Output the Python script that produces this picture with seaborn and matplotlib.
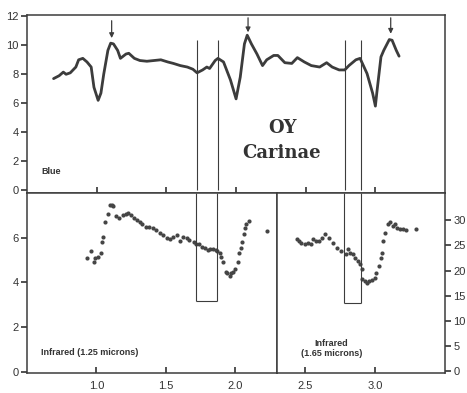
import numpy as np
import pandas as pd
import matplotlib
matplotlib.use("Agg")
import matplotlib.pyplot as plt
import seaborn as sns

sns.set_theme(style="ticks")
plt.rcParams['font.family'] = ['Liberation Sans', 'DejaVu Sans']

# Blue light curve (top panel)
blue_x = [0.69, 0.73, 0.76, 0.78, 0.81, 0.85, 0.87, 0.90, 0.93, 0.96, 0.98, 1.01, 1.03,
          1.05, 1.08, 1.10, 1.12, 1.15, 1.17, 1.21, 1.23, 1.27, 1.31, 1.36, 1.41,
          1.46, 1.51, 1.55, 1.60, 1.65, 1.69, 1.72, 1.76, 1.79, 1.81, 1.85, 1.87,
          1.91, 1.96, 2.00, 2.03, 2.06, 2.08, 2.11, 2.15, 2.19, 2.22, 2.27, 2.30,
          2.35, 2.40, 2.44, 2.49, 2.54, 2.60, 2.65, 2.69, 2.74, 2.78, 2.81, 2.86,
          2.89, 2.94, 2.98, 3.00, 3.01, 3.04, 3.06, 3.10, 3.12, 3.15, 3.17]
blue_y = [7.7, 7.9, 8.15, 8.0, 8.1, 8.5, 9.0, 9.1, 8.85, 8.5, 7.1, 6.2, 6.7,
          8.0, 9.65, 10.15, 10.1, 9.65, 9.1, 9.4, 9.45, 9.1, 8.95, 8.9, 8.95,
          9.0, 8.85, 8.75, 8.6, 8.5, 8.35, 8.1, 8.3, 8.5, 8.4, 8.95, 9.1,
          8.85, 7.6, 6.3, 7.8, 10.1, 10.7, 10.1, 9.4, 8.6, 9.0, 9.3, 9.3,
          8.8, 8.75, 9.15, 8.85, 8.6, 8.5, 8.8, 8.5, 8.3, 8.3, 8.6, 9.0,
          9.1, 8.05, 6.7, 5.8, 6.7, 9.2, 9.65, 10.4, 10.35, 9.65, 9.25]

# Infrared 1.25 microns (bottom left, left axis)
ir125_x = [0.93, 0.96, 0.98, 0.99, 1.01, 1.03, 1.04, 1.05, 1.06, 1.08, 1.10, 1.11,
           1.12, 1.14, 1.16, 1.19, 1.21, 1.23, 1.25, 1.27, 1.29, 1.31, 1.33, 1.36,
           1.38, 1.41, 1.43, 1.46, 1.48, 1.51, 1.53, 1.55, 1.58, 1.60, 1.62, 1.65,
           1.67, 1.70, 1.72, 1.74, 1.76, 1.78, 1.80, 1.82, 1.84, 1.86, 1.87, 1.89,
           1.90, 1.91, 1.93, 1.94, 1.96, 1.97, 1.98, 2.00, 2.02, 2.03, 2.04, 2.05,
           2.06, 2.07, 2.08, 2.10, 2.23]
ir125_y = [5.07, 5.4, 4.93, 5.1, 5.15, 5.3, 5.8, 6.05, 6.7, 7.05, 7.45, 7.45,
           7.4, 6.95, 6.9, 7.0, 7.05, 7.1, 7.0, 6.9, 6.8, 6.7, 6.6, 6.5,
           6.5, 6.45, 6.35, 6.2, 6.1, 6.0, 5.95, 6.05, 6.1, 5.85, 6.05, 6.0,
           5.9, 5.8, 5.7, 5.7, 5.6, 5.55, 5.45, 5.5, 5.5, 5.45, 5.4, 5.3,
           5.15, 4.9, 4.45, 4.4, 4.3, 4.4, 4.45, 4.6, 4.9, 5.3, 5.55, 5.8,
           6.15, 6.45, 6.6, 6.75, 6.3]

# Infrared 1.65 microns (bottom right, right axis)
ir165_x = [2.44, 2.46, 2.47, 2.50, 2.52, 2.54, 2.56, 2.58, 2.60, 2.62, 2.64, 2.67,
           2.70, 2.73, 2.76, 2.79, 2.81, 2.82, 2.84, 2.86, 2.88, 2.89, 2.91, 2.91,
           2.93, 2.94, 2.96, 2.98, 3.00, 3.01, 3.03, 3.04, 3.05, 3.06, 3.07, 3.09,
           3.11, 3.13, 3.14, 3.16, 3.18, 3.20, 3.22, 3.29]
ir165_y = [26.2, 25.8, 25.5, 25.3, 25.4, 25.2, 26.2, 25.9, 25.8, 26.5, 27.2, 26.4,
           25.4, 24.5, 23.9, 23.2, 24.2, 23.5, 23.2, 22.5, 22.0, 21.3, 20.3, 18.3,
           17.9, 17.5, 17.9, 18.2, 18.5, 19.5, 21.0, 22.5, 23.5, 25.8, 27.4, 29.2,
           29.6, 28.8, 29.2, 28.4, 28.2, 28.3, 28.0, 28.2]

# eclipse windows and peak markers
win_left = [1.72, 1.87]
win_right = [2.78, 2.90]
arrow_x = [1.107, 2.086, 3.11]
arrow_top = [11.7, 11.9, 11.9]
arrow_tip = [10.5, 10.9, 10.8]

ink = "#3c3c3c"
fig = plt.figure(figsize=(4.67, 3.93), dpi=100)
ax_top = fig.add_axes([0.058, 0.509, 0.895, 0.453])
ax_bl = fig.add_axes([0.058, 0.051, 0.535, 0.458])
ax_br = fig.add_axes([0.593, 0.051, 0.360, 0.458])

blue = pd.DataFrame({"phase": blue_x, "flux": blue_y})
sns.lineplot(data=blue, x="phase", y="flux", ax=ax_top, color=ink, lw=2.0, sort=False)

ir1 = pd.DataFrame({"phase": ir125_x, "flux": ir125_y})
sns.scatterplot(data=ir1, x="phase", y="flux", ax=ax_bl, color="#454545", s=9, linewidth=0)
ir2 = pd.DataFrame({"phase": ir165_x, "flux": ir165_y})
sns.scatterplot(data=ir2, x="phase", y="flux", ax=ax_br, color="#454545", s=9, linewidth=0)

# eclipse window lines
for w in (win_left, win_right):
    ax_top.vlines(w, 0, 10.4, color=ink, lw=0.8)
ax_bl.vlines(win_left, 3.15, 8, color=ink, lw=0.8)
ax_bl.hlines(3.15, *win_left, color=ink, lw=0.8)
ax_br.vlines(win_right, 13.6, 35.4, color=ink, lw=0.8)
ax_br.hlines(13.6, *win_right, color=ink, lw=0.8)

for xa, yt, yp in zip(arrow_x, arrow_top, arrow_tip):
    ax_top.annotate("", xy=(xa, yp), xytext=(xa, yt),
                    arrowprops=dict(arrowstyle="-|>", color=ink, lw=0.9,
                                    mutation_scale=7, shrinkA=0, shrinkB=0))

ax_top.set_xlim(0.5, 3.5)
ax_top.set_ylim(-0.2, 12.1)
ax_top.set_yticks([0, 2, 4, 6, 8, 10, 12])
ax_top.set_xticks([1.0, 1.5, 2.0, 2.5, 3.0])
ax_top.set_xticklabels([])

ax_bl.set_xlim(0.5, 2.3)
ax_bl.set_ylim(-0.05, 8.0)
ax_bl.set_yticks([0, 2, 4, 6])
ax_bl.set_xticks([1.0, 1.5, 2.0])
ax_bl.set_xticklabels(["1.0", "1.5", "2.0"])

ax_br.set_xlim(2.3, 3.5)
ax_br.set_ylim(-0.3, 35.4)
ax_br.set_xticks([2.5, 3.0])
ax_br.set_xticklabels(["2.5", "3.0"])
ax_br.set_yticks([0, 5, 10, 15, 20, 25, 30])
ax_br.yaxis.tick_right()
ax_br.tick_params(axis="y", left=False, labelleft=False)

for ax in (ax_top, ax_bl, ax_br):
    ax.set_xlabel("")
    ax.set_ylabel("")
    for sp in ax.spines.values():
        sp.set_visible(True)
        sp.set_color(ink)
        sp.set_linewidth(1.1)
    ax.tick_params(axis="x", direction="in", length=4, color=ink, labelsize=8,
                   labelcolor="#333333", pad=6)
    ax.tick_params(axis="y", direction="out", length=4, color=ink, labelsize=8,
                   labelcolor="#333333", pad=2)
    ax.set_facecolor("white")

ax_top.text(0.6, 1.25, "Blue", fontsize=6.5, fontweight="bold", color="#333333",
            va="center")
ax_top.text(2.33, 4.3, "OY", fontsize=13, fontweight="bold", color="#333333",
            ha="center", va="center", family="DejaVu Serif")
ax_top.text(2.33, 2.55, "Carinae", fontsize=13, fontweight="bold", color="#333333",
            ha="center", va="center", family="DejaVu Serif")
ax_bl.text(0.6, 0.85, "Infrared (1.25 microns)", fontsize=6.5, fontweight="bold",
           color="#333333", va="center")
ax_br.text(2.69, 4.5, "Infrared\n(1.65 microns)", fontsize=6.5, fontweight="bold",
           color="#333333", ha="center", va="center", linespacing=1.1)

fig.savefig("out.png", dpi=100, facecolor="white")
